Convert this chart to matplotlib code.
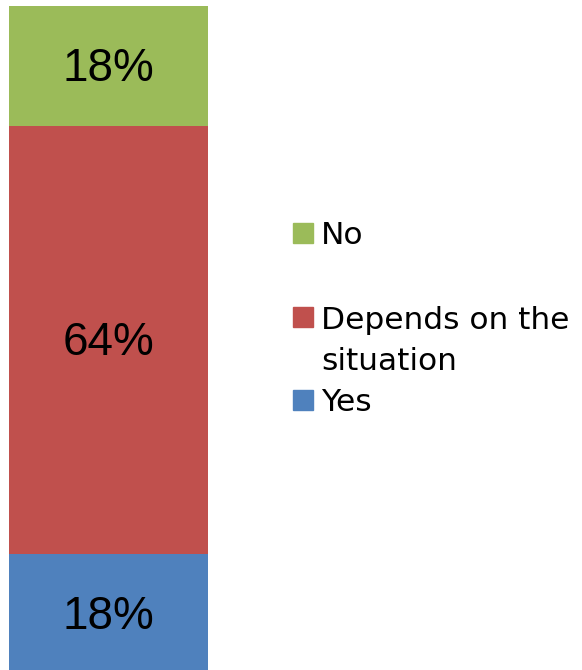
import matplotlib.pyplot as plt
from matplotlib.patches import Rectangle

categorias = ["Yes", "Depends on the\nsituation", "No"]
valores = [18, 64, 18]
rotulos = ["18%", "64%", "18%"]
cores = ["#4F81BD", "#C0504D", "#9BBB59"]

# legenda: ordem de cima para baixo e posicao vertical (pixels a partir do topo)
legenda_ordem = [2, 1, 0]
legenda_y = [233, 317, 400]

largura, altura = 582, 670
fig = plt.figure(figsize=(largura / 100, altura / 100), dpi=100)
# a barra passa um pouco da borda de baixo
ax = fig.add_axes([9 / largura, -4 / altura, 199 / largura, 668 / altura])

base = 0
for v, r, c in zip(valores, rotulos, cores):
    ax.bar(0, v, bottom=base, width=1, color=c, edgecolor="none")
    ax.text(0, base + v / 2 + 0.3, r, ha="center", va="center_baseline",
            fontsize=33, family="Liberation Sans", color="black")
    base += v

ax.set_xlim(-0.5, 0.5)
ax.set_ylim(0, 100)
ax.axis("off")

for i, y in zip(legenda_ordem, legenda_y):
    yf = 1 - y / altura
    fig.patches.append(Rectangle((293 / largura, yf - 10 / altura), 20 / largura, 20 / altura,
                                 transform=fig.transFigure, color=cores[i]))
    linhas = categorias[i].split("\n")
    for k, t in enumerate(linhas):
        fig.text(321 / largura, yf - k * 41 / altura, t, ha="left", va="center_baseline",
                 fontsize=22.5, family="DejaVu Sans")

fig.savefig("out.png", dpi=100)
